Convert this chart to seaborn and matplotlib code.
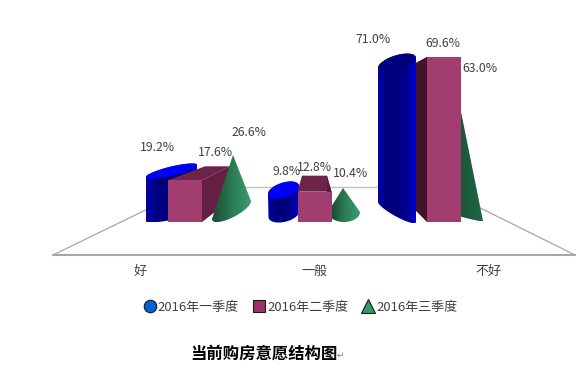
import numpy as np
import matplotlib
matplotlib.use("Agg")
import matplotlib.pyplot as plt
import seaborn as sns
from matplotlib.colors import LinearSegmentedColormap
from matplotlib.lines import Line2D
from matplotlib.patches import Polygon

# data
categories = ["好", "一般", "不好"]
series_names = ["2016年一季度", "2016年二季度", "2016年三季度"]
q1_values = [19.2, 9.8, 71.0]
q2_values = [17.6, 12.8, 69.6]
q3_values = [26.6, 10.4, 63.0]

sns.set_theme(style="white")
plt.rcParams["font.family"] = ["Noto Sans CJK SC", "DejaVu Sans"]

# scale of the picture: pixels per category and per percent
PX_CAT = 129.5
PX_PCT = 2.37
X0_PX = 185
Y0_PX = 222
W, H = 586, 379
TEXT_COLOR = "#404040"


def x_of(px):
    return (px - X0_PX) / PX_CAT


def y_of(py):
    return (Y0_PX - py) / PX_PCT


def to_data(cat, value, pts):
    # pts are pixel offsets from a mark anchor, y pointing down
    pts = np.asarray(pts, dtype=float)
    return np.column_stack([cat + pts[:, 0] / PX_CAT, value - pts[:, 1] / PX_PCT])


def arc(c, a, b, t0, t1, n=40):
    t = np.linspace(t0, t1, n)
    return np.column_stack([
        c[0] + np.cos(t) * a[0] + np.sin(t) * b[0],
        c[1] + np.cos(t) * a[1] + np.sin(t) * b[1],
    ])


def gradient_fill(ax, verts, stops, zorder):
    # horizontal gradient clipped to the shape
    cmap = LinearSegmentedColormap.from_list("g", stops)
    poly = Polygon(verts, closed=True, facecolor="none", edgecolor="none", zorder=zorder)
    ax.add_patch(poly)
    img = ax.imshow(
        np.linspace(0, 1, 128).reshape(1, -1), cmap=cmap, aspect="auto", zorder=zorder,
        extent=[verts[:, 0].min(), verts[:, 0].max(), verts[:, 1].min(), verts[:, 1].max()],
    )
    img.set_clip_path(poly)


fig = plt.figure(figsize=(W / 100, H / 100), dpi=100, facecolor="white")
ax = fig.add_axes([0, 0, 1, 1])

# floor of the 3d chart
ax.plot([x_of(53), x_of(193)], [y_of(255), y_of(187)], color="#a6a6a6", lw=0.9, zorder=1)
ax.plot([x_of(575), x_of(438)], [y_of(255), y_of(187)], color="#a6a6a6", lw=0.9, zorder=1)
ax.plot([x_of(193), x_of(438)], [y_of(187), y_of(187)], color="#c4c4c4", lw=1.0, zorder=1)
ax.plot([x_of(53), x_of(575)], [y_of(255), y_of(255)], color="#a6a6a6", lw=1.5, zorder=1)

# q1 cylinders
cyl_top = [
    dict(c=(-13.5, -5.5), a=(25.5, -6), b=(0, 4.5), color="#0000ff"),
    dict(c=(-31, -8.8), a=(15.5, -4), b=(0, 7.5), color="#0000ff"),
    dict(c=(-47, 9.3), a=(19, -5), b=(0, 8), color="#00007e"),
]
cyl_bottom = [
    dict(c=(-14, -6), a=(25.5, -5), b=(0, 4)),
    dict(c=(-30.5, -8), a=(15.5, -3), b=(0, 8)),
    dict(c=(-47, -10), a=(19, 10), b=(0, 5)),
]
cyl_stops = ["#0000a8", "#00007c", "#00007c", "#000090", "#0000d0"]
for i, v in enumerate(q1_values):
    top, bot = cyl_top[i], cyl_bottom[i]
    upper = to_data(i, v, arc(top["c"], top["a"], top["b"], np.pi, 2 * np.pi))
    lower = to_data(i, 0, arc(bot["c"], bot["a"], bot["b"], 0, np.pi))
    gradient_fill(ax, np.vstack([upper, lower]), cyl_stops, 2)
    cap = to_data(i, v, arc(top["c"], top["a"], top["b"], 0, 2 * np.pi))
    ax.fill(cap[:, 0], cap[:, 1], color=top["color"], lw=0, zorder=2.1)

# q2 boxes, back faces first, front face is the real bar
box_top_x = [(20, 45), (-12.5, 12.5), (-28, 5)]
box_top_dy = [-14, -16, 6]
box_side_x = [(17, 45), (17, 12.5), (-17, -28)]
box_side_bottom = [(30, -10), (12.5, -10), (-28, -11)]
box_top_colors = ["#6e2349", "#6e2349", "#431428"]
box_side_colors = ["#651f45", "#5c1c40", "#431428"]
for i, v in enumerate(q2_values):
    tx = box_top_x[i]
    dy = box_top_dy[i]
    pts = to_data(i, v, [(-17, 0), (17, 0), (tx[1], dy), (tx[0], dy)])
    ax.fill(pts[:, 0], pts[:, 1], color=box_top_colors[i], lw=0, zorder=3)
    sx = box_side_x[i]
    sb = box_side_bottom[i]
    upper = to_data(i, v, [(sx[0], 0), (sx[1], dy)])
    lower = to_data(i, 0, [(sb[0], sb[1]), (sx[0], 0)])
    pts = np.vstack([upper, lower])
    ax.fill(pts[:, 0], pts[:, 1], color=box_side_colors[i], lw=0, zorder=3)

# q3 cones
cone_apex = [(48, -4), (28.5, -9.4), (9, -0.7)]
cone_base = [
    dict(c=(46.5, -12), a=(19.5, -9), b=(0, 8)),
    dict(c=(29.5, -10), a=(16, 0), b=(0, 10)),
    dict(c=(11, -9), a=(28, 8), b=(0, 2)),
]
cone_stops = [
    ["#1a4a32", "#2a7a54", "#3a9c70"],
    ["#123f2a", "#2a7a54", "#3a9c70"],
    ["#0f3a25", "#1a5238", "#1f6544"],
]
for i, v in enumerate(q3_values):
    b = cone_base[i]
    apex = to_data(i, v, [cone_apex[i]])
    base = to_data(i, 0, arc(b["c"], b["a"], b["b"], 0, np.pi))
    gradient_fill(ax, np.vstack([apex, base]), cone_stops[i], 4)

# front faces of the boxes
sns.barplot(x=categories, y=q2_values, order=categories, color="#a23d70", saturation=1,
            width=34 / PX_CAT, linewidth=0, zorder=5, ax=ax)

ax.set_xlim(x_of(0), x_of(W))
ax.set_ylim(y_of(H), y_of(0))
ax.axis("off")

# value labels, offsets in pixels from the top of each mark
q1_label_off = [(-28, -28.5), (-27.5, -26.8), (-71, -14.7)]
q2_label_off = [(30, -27.3), (-0.5, -23.7), (-1, -14)]
q3_label_off = [(64, -26), (35.5, -23.4), (36, -3.7)]
for vals, offs in [(q1_values, q1_label_off), (q2_values, q2_label_off), (q3_values, q3_label_off)]:
    for i, v in enumerate(vals):
        p = to_data(i, v, [offs[i]])[0]
        ax.text(p[0], p[1], f"{v:.1f}%", ha="center", va="center", fontsize=8.8,
                color=TEXT_COLOR, zorder=6)

# category labels spread wider than the bars because of the perspective
for i, name in enumerate(categories):
    ax.text(x_of(314 + (i - 1) * 174), y_of(271), name, ha="center", va="center",
            fontsize=9.4, color=TEXT_COLOR)

handles = [
    Line2D([], [], marker="o", ls="", ms=9, mfc="#0066cc", mec="#1a1a1a", mew=0.8),
    Line2D([], [], marker="s", ls="", ms=9, mfc="#993366", mec="#1a1a1a", mew=0.8),
    Line2D([], [], marker="^", ls="", ms=10, mfc="#339966", mec="#1a1a1a", mew=0.8),
]
leg = ax.legend(handles, series_names, ncol=3, frameon=False, loc="center",
                bbox_to_anchor=(299 / W, 1 - 307 / H), fontsize=9.4, labelcolor=TEXT_COLOR,
                handletextpad=-0.1, columnspacing=0.84, handlelength=1.4, borderpad=0)

fig.text(264 / W, 1 - 354 / H, "当前购房意愿结构图", ha="center", va="center",
         fontsize=11.8, fontweight="bold", color="black")
fig.text(340.5 / W, 1 - 355 / H, "↵", ha="center", va="center", fontsize=6.5, color="#808080",
         family="DejaVu Sans")

fig.savefig("out.png", dpi=100)
